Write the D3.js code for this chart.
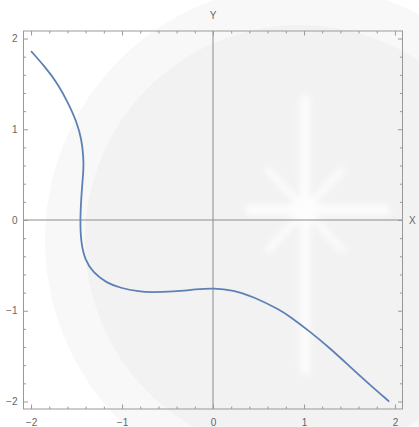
<!DOCTYPE html>
<html>
<head>
<meta charset="utf-8">
<script src="https://cdn.jsdelivr.net/npm/d3@7"></script>
<style>
  body { margin: 0; background: #fff; }
  svg { display: block; font-family: "Liberation Sans", "DejaVu Sans", sans-serif; }
</style>
</head>
<body>
<div id="container"></div>
<script>
// curve points, in drawing order (x, y)
const curveX = [-2.0, -1.846, -1.70, -1.59, -1.498, -1.443, -1.425, -1.421, -1.443, -1.462, -1.451, -1.407, -1.315, -1.168, -1.022, -0.802, -0.692, -0.436, -0.179, 0.003, 0.223, 0.443, 0.736, 0.846, 1.066, 1.286, 1.505, 1.725, 1.937]
const curveY = [1.861, 1.688, 1.494, 1.285, 1.083, 0.881, 0.697, 0.573, 0.330, 0.0, -0.253, -0.441, -0.584, -0.694, -0.749, -0.790, -0.796, -0.790, -0.763, -0.752, -0.771, -0.845, -0.991, -1.065, -1.230, -1.413, -1.616, -1.817, -2.001]
const majorTicks = [-2, -1, 0, 1, 2]
const tickLabels = ["\u22122", "\u22121", "0", "1", "2"]
const domainX = [-2.083, 2.083]
const domainY = [-2.083, 2.083]

const width = 419, height = 427
const frame = { left: 23.5, right: 402.5, top: 31, bottom: 409 }

const svg = d3.select("#container").append("svg")
  .attr("width", width)
  .attr("height", height)

// faint watermark in the background
const defs = svg.append("defs")
defs.append("filter").attr("id", "soft")
  .append("feGaussianBlur").attr("stdDeviation", 3)
const wm = svg.append("g")
wm.append("circle").attr("cx", 300).attr("cy", 240).attr("r", 255).attr("fill", "#f8f8f8")
wm.append("circle").attr("cx", 300).attr("cy", 240).attr("r", 215).attr("fill", "#f2f2f2")
const star = wm.append("g").attr("stroke", "#fdfdfd").attr("stroke-linecap", "round")
  .attr("filter", "url(#soft)")
star.append("line").attr("x1", 305).attr("y1", 100).attr("x2", 305).attr("y2", 370).attr("stroke-width", 10)
star.append("line").attr("x1", 250).attr("y1", 210).attr("x2", 385).attr("y2", 210).attr("stroke-width", 10)
star.append("line").attr("x1", 268).attr("y1", 170).attr("x2", 342).attr("y2", 250).attr("stroke-width", 6)
star.append("line").attr("x1", 342).attr("y1", 170).attr("x2", 268).attr("y2", 250).attr("stroke-width", 6)
star.append("circle").attr("cx", 305).attr("cy", 210).attr("r", 14).attr("fill", "#fdfdfd").attr("stroke", "none")

const x = d3.scaleLinear().domain(domainX).range([frame.left, frame.right])
const y = d3.scaleLinear().domain(domainY).range([frame.bottom, frame.top])

const minorTicks = d3.range(-2, 2.001, 0.2).map(v => Math.round(v * 10) / 10)
  .filter(v => !majorTicks.includes(v))

// axes crossing at origin
svg.append("line")
  .attr("x1", frame.left).attr("x2", frame.right)
  .attr("y1", y(0)).attr("y2", y(0))
  .attr("stroke", "#8c8c8c").attr("stroke-width", 1)
svg.append("line")
  .attr("x1", x(0)).attr("x2", x(0))
  .attr("y1", frame.top).attr("y2", frame.bottom)
  .attr("stroke", "#8c8c8c").attr("stroke-width", 1)

// frame axes with inward ticks
function frameAxis(axisFn, scale, transform, labels) {
  const g = svg.append("g").attr("transform", transform)
  g.call(axisFn(scale).tickValues(minorTicks).tickSize(2.5).tickFormat(""))
  const gm = svg.append("g").attr("transform", transform)
  gm.call(axisFn(scale).tickValues(majorTicks).tickSize(4.5)
    .tickFormat((d, i) => labels ? tickLabels[i] : ""))
  ;[g, gm].forEach(s => {
    s.select(".domain").remove()
    s.selectAll("line").attr("stroke", "#999")
  })
  return gm
}

// the axis generators draw ticks outward, so flip orientation to point inside
const axBottom = frameAxis(d3.axisTop, x, `translate(0,${frame.bottom})`, true)
axBottom.selectAll("text").attr("y", 10).attr("dy", "0.71em")
frameAxis(d3.axisBottom, x, `translate(0,${frame.top})`, false)
const axLeft = frameAxis(d3.axisRight, y, `translate(${frame.left},0)`, true)
axLeft.selectAll("text").attr("x", -6).attr("text-anchor", "end")
frameAxis(d3.axisLeft, y, `translate(${frame.right},0)`, false)

svg.selectAll("g text").attr("fill", "#666").attr("font-size", 10).attr("font-family", null)

svg.append("rect")
  .attr("x", frame.left).attr("y", frame.top)
  .attr("width", frame.right - frame.left).attr("height", frame.bottom - frame.top)
  .attr("fill", "none").attr("stroke", "#999").attr("stroke-width", 1)

// axis names
svg.append("text").attr("x", x(0)).attr("y", 19).attr("text-anchor", "middle")
  .attr("font-size", 10).attr("fill", "#666").text("Y")
svg.append("text").attr("x", 409).attr("y", y(0) + 4)
  .attr("font-size", 10).attr("fill", "#666").text("X")

// the curve
const pts = curveX.map((v, i) => [v, curveY[i]])
const line = d3.line().x(d => x(d[0])).y(d => y(d[1])).curve(d3.curveBasis)
svg.append("path")
  .datum(pts)
  .attr("d", line)
  .attr("fill", "none")
  .attr("stroke", "#5e81b5")
  .attr("stroke-width", 1.8)
</script>
</body>
</html>
